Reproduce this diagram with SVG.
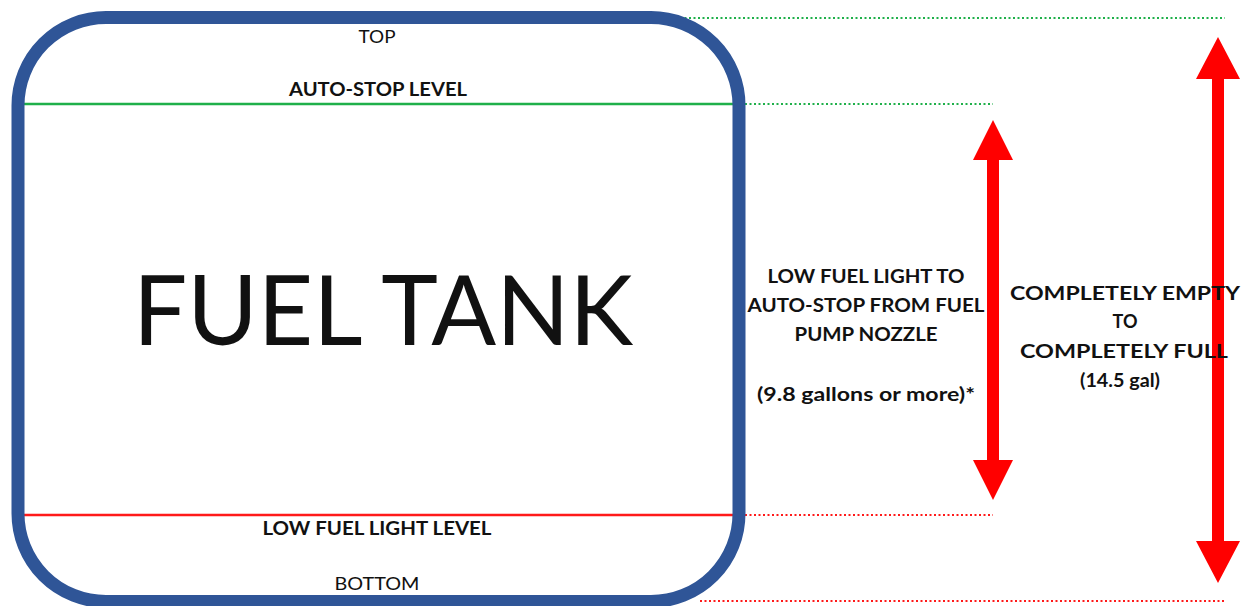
<svg xmlns="http://www.w3.org/2000/svg" width="1245" height="606" viewBox="0 0 1245 606">
<style>
.t{font-family:Lato,"Open Sans","Liberation Sans",sans-serif;fill:#111;text-anchor:middle}
.b{font-weight:bold;font-size:18px}
.n{font-size:18px}
.dg{stroke:#1fb04a;stroke-width:2;stroke-dasharray:2 2.5;fill:none}
.dr{stroke:#ff1a1a;stroke-width:2;stroke-dasharray:2 2.5;fill:none}
.arr{fill:#ff0000}
</style>
<rect width="1245" height="606" fill="#fff"/>
<g id="connectors">
<line class="dg" x1="680" y1="18" x2="1225" y2="18"/>
<line class="dg" x1="745" y1="104" x2="993" y2="104"/>
<line class="dr" x1="745" y1="515" x2="993" y2="515"/>
<line class="dr" x1="700" y1="601" x2="1225" y2="601"/>
<path id="arrow-left" class="arr" d="M993,120 L1013,160 L999,160 L999,460 L1013,460 L993,500 L973,460 L987,460 L987,160 L973,160 Z"/>
<path id="arrow-right" class="arr" d="M1218,37 L1240,79 L1224,79 L1224,541 L1240,541 L1218,583 L1196,541 L1212,541 L1212,79 L1196,79 Z"/>
</g>
<g id="tank">
<line x1="24" y1="104" x2="734" y2="104" stroke="#1fb04a" stroke-width="2.5"/>
<line x1="24" y1="515" x2="734" y2="515" stroke="#ff1a1a" stroke-width="2.5"/>
<rect x="18" y="17.5" width="721" height="584" rx="88" ry="88" fill="none" stroke="#2f5597" stroke-width="13"/>
<text class="t" x="383" y="345" font-size="97" textLength="500" lengthAdjust="spacingAndGlyphs">FUEL TANK</text>
</g>
<g id="label-top"><text class="t n" x="377" y="43" textLength="37" lengthAdjust="spacingAndGlyphs">TOP</text></g>
<g id="label-autostop"><text class="t b" x="378" y="96" textLength="178" lengthAdjust="spacingAndGlyphs">AUTO-STOP LEVEL</text></g>
<g id="label-lowfuel"><text class="t b" x="377" y="535" textLength="229" lengthAdjust="spacingAndGlyphs">LOW FUEL LIGHT LEVEL</text></g>
<g id="label-bottom"><text class="t n" x="377" y="590" textLength="85" lengthAdjust="spacingAndGlyphs">BOTTOM</text></g>
<g id="label-range1">
<text class="t b" x="866" y="283" textLength="197" lengthAdjust="spacingAndGlyphs">LOW FUEL LIGHT TO</text>
<text class="t b" x="866" y="312" textLength="237" lengthAdjust="spacingAndGlyphs">AUTO-STOP FROM FUEL</text>
<text class="t b" x="866" y="341" textLength="143" lengthAdjust="spacingAndGlyphs">PUMP NOZZLE</text>
<text class="t b" x="866" y="401" textLength="218" lengthAdjust="spacingAndGlyphs">(9.8 gallons or more)*</text>
</g>
<g id="label-range2">
<text class="t b" x="1125" y="300" textLength="230" lengthAdjust="spacingAndGlyphs">COMPLETELY EMPTY</text>
<text class="t b" x="1125" y="328">TO</text>
<text class="t b" x="1124" y="358" textLength="208" lengthAdjust="spacingAndGlyphs">COMPLETELY FULL</text>
<text class="t b" x="1120" y="387" textLength="80" lengthAdjust="spacingAndGlyphs">(14.5 gal)</text>
</g>
</svg>
